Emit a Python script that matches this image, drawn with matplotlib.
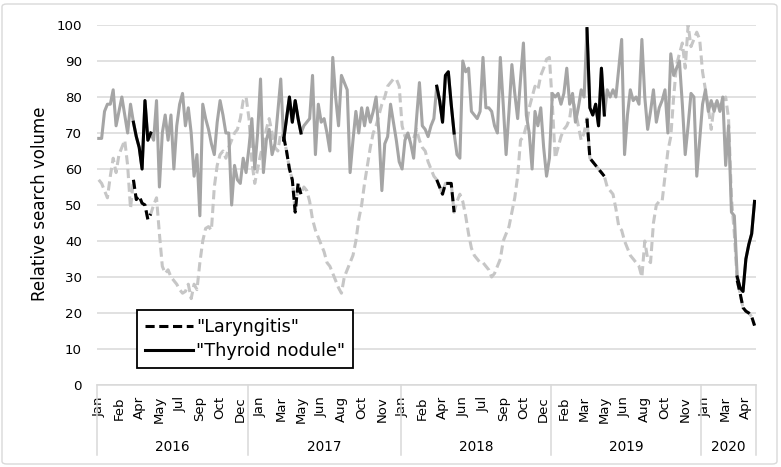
import numpy as np
import matplotlib
matplotlib.use("Agg")
import matplotlib.pyplot as plt
from matplotlib.lines import Line2D
from matplotlib.patches import FancyBboxPatch

# ---------------- data (weekly, Jan 2016 - May 2020) ----------------
laryngitis = [
    57, 56, 54, 52, 58, 63, 59, 64, 66, 68,
    61, 49, 57, 51.5, 52.5, 50.5, 50, 46, 47.5, 50,
    52, 42, 33, 31, 32, 30, 29, 28, 26.5, 25.5,
    26, 28, 24, 28, 26.5, 34, 40, 43.5, 44, 43,
    55, 61, 64, 65, 63, 66, 68, 70, 71, 74,
    79, 80, 74, 62, 56, 60, 64, 67, 71, 74,
    70, 66, 65, 70, 69, 65, 60, 57, 48, 56,
    53, 55, 54, 51, 46, 43, 41, 39, 37, 34,
    33, 31, 29, 27, 25.5, 30, 32, 34, 36, 40,
    46, 50, 56, 61, 66, 70, 72, 75, 78, 80,
    83, 84, 85, 85, 83, 72, 69, 69, 68, 68.5,
    71, 68, 66, 65, 62, 60, 58, 57, 55, 53,
    56, 56, 56, 48, 51, 53, 51, 47, 42, 38,
    36, 35, 34, 34, 33, 32, 30, 31, 33, 35,
    40, 42, 44, 48, 52, 58, 68, 69, 72, 77,
    80, 83, 82, 86, 88, 90.5, 91, 78, 63, 66,
    69, 71, 72, 74, 80, 76, 72, 68, 70, 74,
    63, 62, 61, 60, 59, 58, 55, 54, 53, 49,
    44, 43, 40, 38, 36, 35, 34, 33, 30, 40,
    35, 34, 45, 50, 51, 51, 58, 65, 69, 80,
    89, 92, 95, 88, 100, 94, 96, 98, 96, 87,
    82, 77, 71, 78, 78, 79, 79, 80, 74, 52,
    42, 29, 25.5, 21.5, 20.5, 20, 19, 16.5,
]
thyroid_nodule = [
    68.5, 68.5, 76, 78, 78, 82, 72, 76, 80, 75,
    70, 78, 73, 69, 66, 60, 79, 68, 70, 68,
    79, 55, 70, 75, 68, 75, 60, 72, 78, 81,
    72, 77, 70, 58, 64, 47, 78, 74, 71, 67,
    64, 73, 79, 75, 70, 70, 50, 61, 57, 56,
    63, 59, 66, 74, 60, 70, 85, 59, 68, 71,
    64, 67, 76, 85, 68, 74, 80, 73, 79, 74,
    70, 72, 73, 74, 86, 64, 78, 73, 74, 70,
    65, 91, 80, 72, 86, 84, 82, 59, 68, 76,
    70, 77, 72, 77, 73, 76, 80, 70, 54, 67,
    69, 78, 73, 68, 62, 60, 68, 70, 67, 63,
    74, 84, 72, 71, 69, 72, 74, 83, 79, 73,
    86, 87, 78, 70, 64, 63, 90, 87, 88, 76,
    75, 74, 76, 91, 77, 77, 76, 72, 70, 91,
    78, 64, 76, 89, 81, 74, 85, 95, 75, 70,
    60, 76, 72, 77, 66, 58, 63, 81, 80, 81,
    78, 81, 88, 78, 81, 73, 77, 82, 80, 99,
    77, 75, 78, 72, 88, 75, 82, 80, 82, 80,
    88, 96, 64, 75, 82, 79, 80, 78, 96, 80,
    71, 76, 82, 73, 77, 79, 82, 70, 92, 86,
    88, 90, 78, 64, 72, 81, 80, 58, 68, 78,
    82, 76, 79, 76, 79, 76, 80, 61, 72, 48,
    47, 30, 27, 26, 35, 39, 42, 51,
]
years = ["2016", "2017", "2018", "2019", "2020"]
weeks_per_year = [52, 53, 52, 52, 19]
month_labels = ["Jan", "Feb", "Apr", "May", "Jul", "Sep", "Oct", "Dec",
                "Jan", "Mar", "May", "Jun", "Aug", "Oct", "Nov",
                "Jan", "Feb", "Apr", "Jun", "Jul", "Sep", "Oct", "Dec",
                "Feb", "Mar", "May", "Jun", "Aug", "Oct", "Nov",
                "Jan", "Mar", "Apr"]
label_step = 7
highlight_weeks = [(12, 18), (64, 70), (117, 123), (169, 175), (221, 227)]
series_names = ['"Laryngitis"', '"Thyroid nodule"']

# ---------------- figure ----------------
W, H = 781, 467
fig = plt.figure(figsize=(W / 100, H / 100), dpi=100)
fig.patch.set_facecolor("white")
plt.rcParams["font.family"] = ["DejaVu Sans"]

left_px, right_px, top_px, bottom_px = 97.3, 756.0, 25.0, 385.0
ax = fig.add_axes([left_px / W, 1 - bottom_px / H,
                   (right_px - left_px) / W, (bottom_px - top_px) / H])

N = len(thyroid_nodule)
x = np.arange(N)
lar = np.array(laryngitis, dtype=float)
thy = np.array(thyroid_nodule, dtype=float)

LW = 2.2
DASH = (3.0, 1.5)
ax.plot(x, lar, color="#c6c6c6", lw=LW, dashes=DASH, zorder=2,
        solid_joinstyle="round")
ax.plot(x, thy, color="#a5a5a5", lw=LW, zorder=3, solid_joinstyle="round")
for a, b in highlight_weeks:
    ax.plot(x[a:b + 1], lar[a:b + 1], color="black", lw=LW, dashes=DASH, zorder=4)
    ax.plot(x[a:b + 1], thy[a:b + 1], color="black", lw=LW, zorder=5,
            solid_joinstyle="round")

ax.set_xlim(-0.5, N - 0.5)
ax.set_ylim(0, 100)
ax.set_yticks(np.arange(0, 101, 10))
ax.yaxis.grid(True, color="#d9d9d9", lw=1.1)
ax.set_axisbelow(True)
for s in ["left", "right", "top"]:
    ax.spines[s].set_visible(False)
ax.spines["bottom"].set_color("#d9d9d9")
ax.spines["bottom"].set_linewidth(1.1)
ax.tick_params(axis="y", length=0, pad=11, labelsize=9.6, labelcolor="black")

tick_pos = np.arange(0, N, label_step)[:len(month_labels)]
ax.set_xticks(tick_pos)
ax.set_xticklabels(month_labels, rotation=90, fontsize=9.5)
ax.tick_params(axis="x", length=0, pad=8)

# year groups
trans = ax.get_xaxis_transform()
edges = np.concatenate([[0], np.cumsum(weeks_per_year)]) - 0.5
sep_bottom = -(455 - bottom_px) / (bottom_px - top_px)
year_y = -(447 - bottom_px) / (bottom_px - top_px)
for e in edges:
    ax.add_line(Line2D([e, e], [0, sep_bottom], transform=trans, color="#d9d9d9",
                       lw=1.1, clip_on=False))
for i, yr in enumerate(years):
    ax.text((edges[i] + edges[i + 1]) / 2, year_y, yr, transform=trans,
            ha="center", va="center", fontsize=9.8)

# y label
fig.text(40 / W, 1 - 204 / H, "Relative search volume", rotation=90,
         ha="center", va="center", fontsize=12)

# legend
handles = [Line2D([], [], color="black", lw=LW, dashes=DASH),
           Line2D([], [], color="black", lw=LW)]
leg = ax.legend(handles, series_names, loc="lower left",
                bbox_to_anchor=((137 - left_px) / (right_px - left_px),
                                (bottom_px - 368) / (bottom_px - top_px)),
                fontsize=12.7, frameon=True, fancybox=False, edgecolor="black",
                handlelength=2.75, handletextpad=0.15, borderpad=0.45,
                labelspacing=0.35, borderaxespad=0)
leg.get_frame().set_linewidth(1.3)
leg.get_frame().set_alpha(1)

# chart border
fig.patches.append(FancyBboxPatch((2 / W, 3 / H), 775 / W, 460 / H,
                                  boxstyle="round,pad=0,rounding_size=0.006",
                                  transform=fig.transFigure, fill=False,
                                  edgecolor="#d9d9d9", lw=1.0))

fig.savefig("out.png", dpi=100)
